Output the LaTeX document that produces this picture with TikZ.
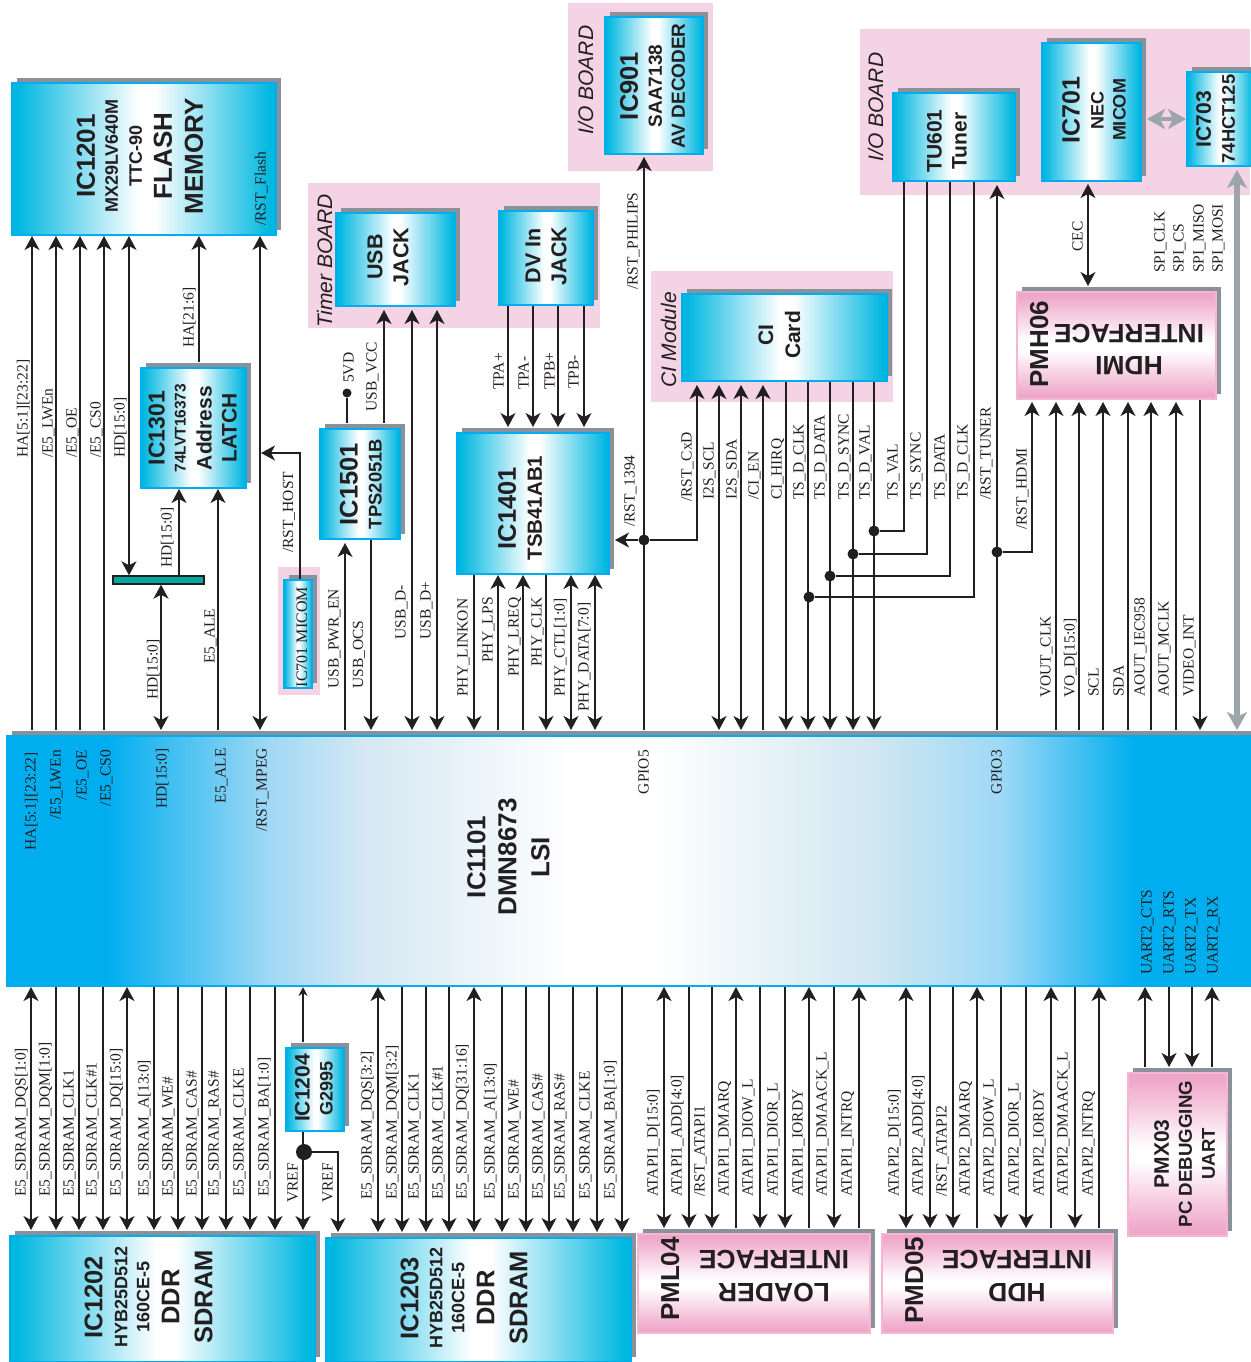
\documentclass[tikz,border=0pt]{standalone}
\usepackage{fontspec}
\setmainfont{Liberation Serif}
\setsansfont{Liberation Sans}
\usetikzlibrary{arrows.meta,fit,shadows}

\definecolor{ink}{HTML}{231F20}
\definecolor{icblue}{HTML}{00AEEF}
\definecolor{chipcyan}{HTML}{00B7E0}
\definecolor{pinkedge}{HTML}{F4B6D2}
\definecolor{pinkfill}{HTML}{EFA7C9}
\definecolor{boardpink}{HTML}{F3D3E4}
\definecolor{shadegray}{HTML}{8A9199}
\definecolor{busgray}{HTML}{9BA5AB}
\definecolor{barteal}{HTML}{00A99D}
\definecolor{lsisky}{HTML}{A0D8F5}
\definecolor{lsipale}{HTML}{D4E8F3}
\definecolor{lsimist}{HTML}{D0E6F0}
\definecolor{lsilight}{HTML}{9CD8F6}

\pgfdeclarehorizontalshading{lsishade}{100bp}{
  color(0bp)=(icblue); color(29bp)=(icblue); color(35.5bp)=(lsisky);
  color(39.3bp)=(lsipale); color(47.8bp)=(white); color(51bp)=(white);
  color(60bp)=(lsimist); color(65bp)=(lsilight);
  color(70.3bp)=(icblue); color(100bp)=(icblue)}
\pgfdeclarehorizontalshading{chipshade}{100bp}{
  color(0bp)=(chipcyan); color(26bp)=(chipcyan); color(49bp)=(white); color(52bp)=(white);
  color(74bp)=(chipcyan); color(100bp)=(chipcyan)}
\pgfdeclareverticalshading{pinkshade}{100bp}{
  color(0bp)=(pinkfill); color(27bp)=(pinkfill); color(48bp)=(white); color(52bp)=(white);
  color(73bp)=(pinkfill); color(100bp)=(pinkfill)}

\newcommand{\sz}[1]{\fontsize{#1}{#1}\selectfont}

\tikzset{
  chipbase/.style={line width=2pt, inner sep=0pt, drop shadow={shadow xshift=5pt, shadow yshift=5pt, opacity=1, fill=shadegray}},
  chip/.style={chipbase, draw=icblue, shading=chipshade},
  lsichip/.style={chipbase, draw=icblue, shading=lsishade},
  pinkchip/.style={chipbase, draw=pinkedge, shading=pinkshade},
  captext/.style={rotate=90, align=center, inner sep=0pt, text=ink, font=\sffamily\bfseries\fontsize{20}{#1}\selectfont},
  backtext/.style={rotate=180, align=center, inner sep=0pt, text=ink, font=\sffamily\bfseries\fontsize{26.5}{#1}\selectfont},
  pintext/.style={rotate=90, anchor=base, inner sep=0pt, text=ink, font=\sffamily\bfseries\fontsize{26}{28}\selectfont},
  boardtext/.style={rotate=90, anchor=base, inner sep=0pt, text=ink, font=\sffamily\itshape\fontsize{21}{23}\selectfont},
  tag/.style={xshift=5.5pt, rotate=90, anchor=base west, inner sep=0pt, text=ink, font=\fontsize{15.5}{17}\selectfont},
  intag/.style={tag, anchor=base east},
  wire/.style={draw=ink, line width=1.4pt},
  gap/.style={shorten >=5pt},
  bus/.style={draw=busgray, line width=6pt, {Stealth[length=18pt,width=20pt,inset=5pt]}-{Stealth[length=18pt,width=20pt,inset=5pt]}},
  dot/.style={circle, fill=ink, inner sep=0pt, minimum size=#1}
}

\begin{document}
\begin{tikzpicture}[x=1pt, y=-1pt, >={Stealth[length=14pt,width=15pt,inset=4pt]}]
    \useasboundingbox (0,0) rectangle (1250,1362);

    % --- Board backgrounds ---
    \fill[boardpink] (568,3) rectangle (713,171);
    \fill[boardpink] (860,29) rectangle (1250,195);
    \fill[boardpink] (308,183) rectangle (600,328);
    \fill[boardpink] (651,271) rectangle (893,402);
    \fill[boardpink] (278,567) rectangle (320,695);
    \node[boardtext] (ioleft) at (593,80) {I/O BOARD};
    \node[boardtext] (ioright) at (883,107) {I/O BOARD};
    \node[boardtext] (timerb) at (332,261) {Timer BOARD};
    \node[boardtext] (cimod) at (676,340) {CI Module};

    % --- Chips ---
    \node[lsichip, fit={(7,736) (1252,986)}] (lsi) {};
    \node[chip, fit={(12,83) (276,235)}] (flash) {};
    \node[chip, fit={(141,368) (246,488)}] (latch) {};
    \node[chip, fit={(320,429) (400,539)}] (ic1501) {};
    \node[chip, fit={(336,213) (455,306)}] (usbjack) {};
    \node[chip, fit={(499,211) (593,305)}] (dvjack) {};
    \node[chip, fit={(457,433) (609,574)}] (ic1401) {};
    \node[chip, fit={(605,17) (703,154)}] (ic901) {};
    \node[chip, fit={(893,93) (1015,181)}] (tuner) {};
    \node[chip, fit={(1042,43) (1141,181)}] (ic701) {};
    \node[chip, fit={(1187,72) (1254,166)}] (ic703) {};
    \node[chip, fit={(682,294) (887,381)}] (cicard) {};
    \node[chip, fit={(284,580) (312,688)}] (micom) {};
    \node[chip, fit={(10,1236) (315,1362)}] (ic1202) {};
    \node[chip, fit={(326,1238) (631,1362)}] (ic1203) {};
    \node[chip, fit={(286,1048) (344,1131)}] (ic1204) {};
    \node[pinkchip, fit={(1017,292) (1216,399)}] (hdmi) {};
    \node[pinkchip, fit={(638,1234) (870,1333)}] (loader) {};
    \node[pinkchip, fit={(882,1234) (1113,1333)}] (hdd) {};
    \node[pinkchip, fit={(1128,1073) (1227,1236)}] (uart) {};
    \node[draw=ink, line width=1.4pt, fill=barteal, inner sep=0pt, fit={(113,576) (204,584)}] (hdbar) {};

    % --- Chip captions ---
    \node[captext=23] (tflash) at (140,156) {{\sz{26}IC1201}\\{\sz{18}MX29LV640M}\\[1pt]{\sz{18}TTC-90}\\[7pt]{\sz{26}FLASH}\\[8pt]{\sz{26}MEMORY}};
    \node[captext=21] (tlatch) at (192.7,428) {{\sz{23}IC1301}\\{\sz{15.5}74LVT16373}\\[5pt]{\sz{21}Address}\\[4pt]{\sz{21}LATCH}};
    \node[captext=24] (t1501) at (360.8,484) {{\sz{25.5}IC1501}\\{\sz{18.4}TPS2051B}};
    \node[captext=26] (tusb) at (388,257) {{\sz{21.5}USB}\\{\sz{21.5}JACK}};
    \node[captext=26] (tdv) at (546.2,256) {{\sz{21.5}DV In}\\{\sz{21.5}JACK}};
    \node[captext=26] (t1401) at (520,508) {{\sz{25.5}IC1401}\\{\sz{20.5}TSB41AB1}};
    \node[captext=23] (t901) at (652.5,86) {{\sz{25.5}IC901}\\[1pt]{\sz{19}SAA7138}\\{\sz{19}AV DECODER}};
    \node[captext=25] (ttuner) at (947,141) {{\sz{21}TU601}\\{\sz{21}Tuner}};
    \node[captext=22] (t701) at (1094,110) {{\sz{25}IC701}\\[2pt]{\sz{18}NEC}\\{\sz{18}MICOM}};
    \node[captext=24] (t703) at (1215.5,119) {{\sz{21}IC703}\\{\sz{18.3}74HCT125}};
    \node[captext=27] (tci) at (779.5,335) {{\sz{21}CI}\\{\sz{21}Card}};
    \node[captext=31] (tlsi) at (508.5,857) {{\sz{26}IC1101}\\{\sz{26}DMN8673}\\[2pt]{\sz{26}LSI}};
    \node[captext=22] (t1202) at (148.7,1297) {{\sz{25.5}IC1202}\\[3pt]{\sz{18}HYB25D512}\\{\sz{18}160CE-5}\\[8pt]{\sz{25.5}DDR}\\[11pt]{\sz{25.5}SDRAM}};
    \node[captext=22] (t1203) at (464,1298) {{\sz{25.5}IC1203}\\[2pt]{\sz{18}HYB25D512}\\{\sz{18}160CE-5}\\[8pt]{\sz{25.5}DDR}\\[11pt]{\sz{25.5}SDRAM}};
    \node[captext=23] (t1204) at (314,1088) {{\sz{21}IC1204}\\{\sz{18}G2995}};
    \node[captext=23] (tuart) at (1184.5,1154) {{\sz{21}PMX03}\\{\sz{18.7}PC DEBUGGING}\\{\sz{18.5}UART}};
    \node[intag, anchor=base, font=\fontsize{16}{18}\selectfont] (tmicom) at (301.5,637) {IC701 MICOM};
    \node[pintext] (thdmipin) at (1048,344) {PMH06};
    \node[backtext=32] (thdmi) at (1129,349) {HDMI\\INTERFACE};
    \node[pintext] (tloaderpin) at (679,1279) {PML04};
    \node[backtext=33] (tloader) at (774,1276) {LOADER\\INTERFACE};
    \node[pintext] (thddpin) at (923,1280) {PMD05};
    \node[backtext=33] (thdd) at (1017,1276) {HDD\\INTERFACE};

    % --- Junctions ---
    \node[dot=11pt] (jrst) at (644,540) {};
    \node[dot=11pt] (jval) at (874,531) {};
    \node[dot=11pt] (jsync) at (853,554) {};
    \node[dot=11pt] (jdata) at (830,576) {};
    \node[dot=11pt] (jclk) at (809,597) {};
    \node[dot=11pt] (jtuner) at (997,552) {};
    \node[dot=9pt] (jfive) at (347,393) {};
    \node[dot=16pt] (jvref) at (304,1152) {};
    \coordinate (hostend) at (261,453);

    % --- Flash and latch ---
    \draw[wire,<-,gap] (32,0 |- flash.south) -- (32,0 |- lsi.north);
    \draw[wire,<-,gap] (56,0 |- flash.south) -- (56,0 |- lsi.north);
    \draw[wire,<-,gap] (80,0 |- flash.south) -- (80,0 |- lsi.north);
    \draw[wire,<-,gap] (104,0 |- flash.south) -- (104,0 |- lsi.north);
    \draw[wire,<->] (129,0 |- flash.south) -- (129,0 |- hdbar.north);
    \draw[wire,<-,gap] (199,0 |- flash.south) -- (199,0 |- latch.north);
    \draw[wire,<->,gap] (260,0 |- flash.south) -- (260,0 |- lsi.north);
    \draw[wire,<-] (179,0 |- latch.south) -- (179,0 |- hdbar.north);
    \draw[wire,<->,gap] (161,0 |- hdbar.south) -- (161,0 |- lsi.north);
    \draw[wire,<-,gap] (218,0 |- latch.south) -- (218,0 |- lsi.north);
    \draw[wire,->] (300,0 |- micom.north) |- (hostend);
    \node[tag] (lha) at (22,458) {HA[5:1][23:22]};
    \node[tag] (llwen) at (47,458) {/E5\_LWEn};
    \node[tag] (loe) at (71,458) {/E5\_OE};
    \node[tag] (lcs) at (95,458) {/E5\_CS0};
    \node[tag] (lhdtop) at (119,458) {HD[15:0]};
    \node[tag] (lhahi) at (188,348) {HA[21:6]};
    \node[tag] (lrstflash) at (260,226) {/RST\_Flash};
    \node[tag] (lhdmid) at (166,568) {HD[15:0]};
    \node[tag] (lhdlow) at (152,700) {HD[15:0]};
    \node[tag] (lale) at (209,664) {E5\_ALE};
    \node[tag] (lhost) at (287.5,553) {/RST\_HOST};

    % --- USB ---
    \draw[wire,<-,gap,shorten <=3pt] (384,0 |- usbjack.south) -- (384,0 |- ic1501.north);
    \draw[wire,gap] (jfive) -- (347,0 |- ic1501.north);
    \draw[wire,<-,gap,shorten <=3pt] (345,0 |- ic1501.south) -- (345,0 |- lsi.north);
    \draw[wire,->,gap] (371,0 |- ic1501.south) -- (371,0 |- lsi.north);
    \draw[wire,<->,gap,shorten <=3pt] (412,0 |- usbjack.south) -- (412,0 |- lsi.north);
    \draw[wire,<->,gap,shorten <=3pt] (437,0 |- usbjack.south) -- (437,0 |- lsi.north);
    \node[tag] (lfive) at (348,383) {5VD};
    \node[tag] (lvcc) at (371,412) {USB\_VCC};
    \node[tag] (lpwr) at (333,689) {USB\_PWR\_EN};
    \node[tag] (locs) at (357.5,689) {USB\_OCS};
    \node[tag] (lusbm) at (400,640) {USB\_D-};
    \node[tag] (lusbp) at (425,640) {USB\_D+};

    % --- 1394 PHY ---
    \draw[wire,->,gap] (508,0 |- dvjack.south) -- (508,0 |- ic1401.north);
    \draw[wire,->,gap] (533,0 |- dvjack.south) -- (533,0 |- ic1401.north);
    \draw[wire,->,gap] (558,0 |- dvjack.south) -- (558,0 |- ic1401.north);
    \draw[wire,->,gap] (584,0 |- dvjack.south) -- (584,0 |- ic1401.north);
    \draw[wire,->,gap] (474,0 |- ic1401.south) -- (474,0 |- lsi.north);
    \draw[wire,<-,gap] (498,0 |- ic1401.south) -- (498,0 |- lsi.north);
    \draw[wire,<-,gap] (523,0 |- ic1401.south) -- (523,0 |- lsi.north);
    \draw[wire,->,gap] (546,0 |- ic1401.south) -- (546,0 |- lsi.north);
    \draw[wire,<->,gap] (571,0 |- ic1401.south) -- (571,0 |- lsi.north);
    \draw[wire,<->,gap] (595,0 |- ic1401.south) -- (595,0 |- lsi.north);
    \node[tag] (ltpap) at (498,390) {TPA+};
    \node[tag] (ltpam) at (523,390) {TPA-};
    \node[tag] (ltpbp) at (549,390) {TPB+};
    \node[tag] (ltpbm) at (573,389) {TPB-};
    \node[tag] (llinkon) at (462,697) {PHY\_LINKON};
    \node[tag] (llps) at (487,663) {PHY\_LPS};
    \node[tag] (llreq) at (513,677) {PHY\_LREQ};
    \node[tag] (lphyclk) at (536,667) {PHY\_CLK};
    \node[tag] (lctl) at (559,697) {PHY\_CTL[1:0]};
    \node[tag] (lphydata) at (583,712) {PHY\_DATA[7:0]};

    % --- Reset line and CI card ---
    \draw[wire,<-,shorten <=2pt,gap] (644,0 |- ic901.south) -- (644,0 |- lsi.north);
    \draw[wire,->,gap] (jrst) -- (jrst -| ic1401.east);
    \draw[wire,<-,shorten <=3pt] (697,0 |- cicard.south) |- (jrst);
    \draw[wire,<->,gap,shorten <=3pt] (719,0 |- cicard.south) -- (719,0 |- lsi.north);
    \draw[wire,<->,gap,shorten <=3pt] (741,0 |- cicard.south) -- (741,0 |- lsi.north);
    \draw[wire,<-,gap,shorten <=3pt] (763,0 |- cicard.south) -- (763,0 |- lsi.north);
    \draw[wire,->,gap] (786,0 |- cicard.south) -- (786,0 |- lsi.north);
    \draw[wire,->,gap] (808,0 |- cicard.south) -- (808,0 |- lsi.north);
    \draw[wire,->,gap] (830,0 |- cicard.south) -- (830,0 |- lsi.north);
    \draw[wire,->,gap] (853,0 |- cicard.south) -- (853,0 |- lsi.north);
    \draw[wire,->,gap] (874,0 |- cicard.south) -- (874,0 |- lsi.north);
    \node[tag] (lphilips) at (632,290) {/RST\_PHILIPS};
    \node[tag] (l1394) at (629,527) {/RST\_1394};
    \node[tag] (lcxd) at (686,502) {/RST\_CxD};
    \node[tag] (lscl) at (708,500) {I2S\_SCL};
    \node[tag] (lsda) at (731,500) {I2S\_SDA};
    \node[tag] (lcien) at (753,500) {/CI\_EN};
    \node[tag] (lhirq) at (776,500) {CI\_HIRQ};
    \node[tag] (ldclk) at (798,500) {TS\_D\_CLK};
    \node[tag] (lddata) at (819,500) {TS\_D\_DATA};
    \node[tag] (ldsync) at (843,500) {TS\_D\_SYNC};
    \node[tag] (ldval) at (864,500) {TS\_D\_VAL};

    % --- Tuner ---
    \draw[wire] (904,0 |- tuner.south) |- (jval);
    \draw[wire] (927,0 |- tuner.south) |- (jsync);
    \draw[wire] (950,0 |- tuner.south) |- (jdata);
    \draw[wire] (974,0 |- tuner.south) |- (jclk);
    \draw[wire,<-,gap,shorten <=3pt] (997,0 |- tuner.south) -- (997,0 |- lsi.north);
    \node[tag] (ltsval) at (892,500) {TS\_VAL};
    \node[tag] (ltssync) at (915,500) {TS\_SYNC};
    \node[tag] (ltsdata) at (939,500) {TS\_DATA};
    \node[tag] (ltsclk) at (962,500) {TS\_D\_CLK};
    \node[tag] (ltuner) at (985,500) {/RST\_TUNER};

    % --- HDMI ---
    \draw[wire,<-,shorten <=2pt] (1032,0 |- hdmi.south) |- (jtuner);
    \draw[wire,<-,shorten <=2pt,gap] (1056,0 |- hdmi.south) -- (1056,0 |- lsi.north);
    \draw[wire,<-,shorten <=2pt,gap] (1079,0 |- hdmi.south) -- (1079,0 |- lsi.north);
    \draw[wire,<-,shorten <=2pt,gap] (1103,0 |- hdmi.south) -- (1103,0 |- lsi.north);
    \draw[wire,<-,shorten <=2pt,gap] (1128,0 |- hdmi.south) -- (1128,0 |- lsi.north);
    \draw[wire,<-,shorten <=2pt,gap] (1151,0 |- hdmi.south) -- (1151,0 |- lsi.north);
    \draw[wire,<-,shorten <=2pt,gap] (1176,0 |- hdmi.south) -- (1176,0 |- lsi.north);
    \draw[wire,->,gap] (1200,0 |- hdmi.south) -- (1200,0 |- lsi.north);
    \draw[wire,<->,gap,shorten <=2pt] (1088,0 |- ic701.south) -- (1088,0 |- hdmi.north);
    \node[tag] (lhdmirst) at (1021,530) {/RST\_HDMI};
    \node[tag] (lvout) at (1045,698) {VOUT\_CLK};
    \node[tag] (lvod) at (1069,698) {VO\_D[15:0]};
    \node[tag] (lhscl) at (1093,697) {SCL};
    \node[tag] (lhsda) at (1118,697) {SDA};
    \node[tag] (liec) at (1139,697) {AOUT\_IEC958};
    \node[tag] (lmclk) at (1163,697) {AOUT\_MCLK};
    \node[tag] (lvint) at (1188,697) {VIDEO\_INT};
    \node[tag] (lcec) at (1077,252) {CEC};

    % --- SPI bus ---
    \draw[bus,shorten <=3pt,gap] (1237,0 |- ic703.south) -- (1237,0 |- lsi.north);
    \draw[bus,line width=4pt,shorten <=5pt] (ic701.east |- ic703.west) -- (ic703.west);
    \node[tag] (lspiclk) at (1159,273) {SPI\_CLK};
    \node[tag] (lspics) at (1178,273) {SPI\_CS};
    \node[tag] (lspimiso) at (1198,273) {SPI\_MISO};
    \node[tag] (lspimosi) at (1217,273) {SPI\_MOSI};

    % --- Labels inside the LSI ---
    \node[intag] (iha) at (30,752) {HA[5:1][23:22]};
    \node[intag] (ilwen) at (55,750) {/E5\_LWEn};
    \node[intag] (ioe) at (81,750) {/E5\_OE};
    \node[intag] (ics) at (105,750) {/E5\_CS0};
    \node[intag] (ihd) at (161,748) {HD[15:0]};
    \node[intag] (iale) at (220,748) {E5\_ALE};
    \node[intag] (impeg) at (261,748) {/RST\_MPEG};
    \node[intag] (igpfive) at (643,750) {GPIO5};
    \node[intag] (igpthree) at (996,750) {GPIO3};
    \node[tag] (icts) at (1146,975) {UART2\_CTS};
    \node[tag] (irts) at (1168,975) {UART2\_RTS};
    \node[tag] (itx) at (1190,975) {UART2\_TX};
    \node[tag] (irx) at (1212,975) {UART2\_RX};

    % --- SDRAM one ---
    \draw[wire,<->,gap] (31,0 |- lsi.south) -- (31,0 |- ic1202.north);
    \draw[wire,->,gap] (56,0 |- lsi.south) -- (56,0 |- ic1202.north);
    \draw[wire,->,gap] (79,0 |- lsi.south) -- (79,0 |- ic1202.north);
    \draw[wire,->,gap] (103,0 |- lsi.south) -- (103,0 |- ic1202.north);
    \draw[wire,<->,gap] (127,0 |- lsi.south) -- (127,0 |- ic1202.north);
    \draw[wire,->,gap] (154,0 |- lsi.south) -- (154,0 |- ic1202.north);
    \draw[wire,->,gap] (178,0 |- lsi.south) -- (178,0 |- ic1202.north);
    \draw[wire,->,gap] (202,0 |- lsi.south) -- (202,0 |- ic1202.north);
    \draw[wire,->,gap] (226,0 |- lsi.south) -- (226,0 |- ic1202.north);
    \draw[wire,->,gap] (250,0 |- lsi.south) -- (250,0 |- ic1202.north);
    \draw[wire,->,gap] (275,0 |- lsi.south) -- (275,0 |- ic1202.north);
    \node[tag] (adqs) at (20,1197) {E5\_SDRAM\_DQS[1:0]};
    \node[tag] (adqm) at (44,1197) {E5\_SDRAM\_DQM[1:0]};
    \node[tag] (aclk) at (68,1197) {E5\_SDRAM\_CLK1};
    \node[tag] (aclkn) at (91,1197) {E5\_SDRAM\_CLK\#1};
    \node[tag] (adq) at (115,1197) {E5\_SDRAM\_DQ[15:0]};
    \node[tag] (aadr) at (143,1197) {E5\_SDRAM\_A[13:0]};
    \node[tag] (awe) at (167,1197) {E5\_SDRAM\_WE\#};
    \node[tag] (acas) at (191,1197) {E5\_SDRAM\_CAS\#};
    \node[tag] (aras) at (213,1197) {E5\_SDRAM\_RAS\#};
    \node[tag] (acke) at (238,1197) {E5\_SDRAM\_CLKE};
    \node[tag] (aba) at (263,1197) {E5\_SDRAM\_BA[1:0]};

    % --- VREF ---
    \draw[wire,line width=1.2pt,{Stealth[length=9pt,width=9pt,inset=3pt]}-,gap] (303,0 |- lsi.south) -- (303,0 |- ic1204.north);
    \draw[wire] (303,0 |- ic1204.south) -- (303,0 |- jvref);
    \draw[wire,->,gap] (303,0 |- jvref) -- (303,0 |- ic1202.north);
    \draw[wire,->,gap] (jvref) -| (338,0 |- ic1203.north);
    \node[tag] (avref) at (292,1203) {VREF};
    \node[tag] (bvref) at (327,1203) {VREF};

    % --- SDRAM two ---
    \draw[wire,<->,gap] (378,0 |- lsi.south) -- (378,0 |- ic1203.north);
    \draw[wire,->,gap] (402,0 |- lsi.south) -- (402,0 |- ic1203.north);
    \draw[wire,->,gap] (426,0 |- lsi.south) -- (426,0 |- ic1203.north);
    \draw[wire,->,gap] (449,0 |- lsi.south) -- (449,0 |- ic1203.north);
    \draw[wire,<->,gap] (474,0 |- lsi.south) -- (474,0 |- ic1203.north);
    \draw[wire,->,gap] (502,0 |- lsi.south) -- (502,0 |- ic1203.north);
    \draw[wire,->,gap] (526,0 |- lsi.south) -- (526,0 |- ic1203.north);
    \draw[wire,->,gap] (549,0 |- lsi.south) -- (549,0 |- ic1203.north);
    \draw[wire,->,gap] (573,0 |- lsi.south) -- (573,0 |- ic1203.north);
    \draw[wire,->,gap] (597,0 |- lsi.south) -- (597,0 |- ic1203.north);
    \draw[wire,->,gap] (622,0 |- lsi.south) -- (622,0 |- ic1203.north);
    \node[tag] (bdqs) at (366,1200) {E5\_SDRAM\_DQS[3:2]};
    \node[tag] (bdqm) at (391,1200) {E5\_SDRAM\_DQM[3:2]};
    \node[tag] (bclk) at (413,1200) {E5\_SDRAM\_CLK1};
    \node[tag] (bclkn) at (437,1200) {E5\_SDRAM\_CLK\#1};
    \node[tag] (bdq) at (461,1200) {E5\_SDRAM\_DQ[31:16]};
    \node[tag] (badr) at (489,1200) {E5\_SDRAM\_A[13:0]};
    \node[tag] (bwe) at (513,1200) {E5\_SDRAM\_WE\#};
    \node[tag] (bcas) at (537,1200) {E5\_SDRAM\_CAS\#};
    \node[tag] (bras) at (559,1200) {E5\_SDRAM\_RAS\#};
    \node[tag] (bcke) at (584,1200) {E5\_SDRAM\_CLKE};
    \node[tag] (bba) at (609,1200) {E5\_SDRAM\_BA[1:0]};

    % --- Loader interface ---
    \draw[wire,<->,gap] (664,0 |- lsi.south) -- (664,0 |- loader.north);
    \draw[wire,->,gap] (689,0 |- lsi.south) -- (689,0 |- loader.north);
    \draw[wire,->,gap] (712,0 |- lsi.south) -- (712,0 |- loader.north);
    \draw[wire,<-,gap] (736,0 |- lsi.south) -- (736,0 |- loader.north);
    \draw[wire,->,gap] (760,0 |- lsi.south) -- (760,0 |- loader.north);
    \draw[wire,->,gap] (785,0 |- lsi.south) -- (785,0 |- loader.north);
    \draw[wire,<-,gap] (809,0 |- lsi.south) -- (809,0 |- loader.north);
    \draw[wire,->,gap] (834,0 |- lsi.south) -- (834,0 |- loader.north);
    \draw[wire,<-,gap] (859,0 |- lsi.south) -- (859,0 |- loader.north);
    \node[tag] (cd) at (652,1197) {ATAPI1\_D[15:0]};
    \node[tag] (cadd) at (676,1197) {ATAPI1\_ADD[4:0]};
    \node[tag] (crst) at (699,1197) {/RST\_ATAPI1};
    \node[tag] (cdmarq) at (723,1197) {ATAPI1\_DMARQ};
    \node[tag] (cdiow) at (747,1197) {ATAPI1\_DIOW\_L};
    \node[tag] (cdior) at (772,1197) {ATAPI1\_DIOR\_L};
    \node[tag] (ciordy) at (797,1197) {ATAPI1\_IORDY};
    \node[tag] (cdmaack) at (821,1197) {ATAPI1\_DMAACK\_L};
    \node[tag] (cintrq) at (846,1197) {ATAPI1\_INTRQ};

    % --- HDD interface ---
    \draw[wire,<->,gap] (906,0 |- lsi.south) -- (906,0 |- hdd.north);
    \draw[wire,->,gap] (930,0 |- lsi.south) -- (930,0 |- hdd.north);
    \draw[wire,->,gap] (953,0 |- lsi.south) -- (953,0 |- hdd.north);
    \draw[wire,<-,gap] (977,0 |- lsi.south) -- (977,0 |- hdd.north);
    \draw[wire,->,gap] (1001,0 |- lsi.south) -- (1001,0 |- hdd.north);
    \draw[wire,->,gap] (1026,0 |- lsi.south) -- (1026,0 |- hdd.north);
    \draw[wire,<-,gap] (1051,0 |- lsi.south) -- (1051,0 |- hdd.north);
    \draw[wire,->,gap] (1075,0 |- lsi.south) -- (1075,0 |- hdd.north);
    \draw[wire,<-,gap] (1099,0 |- lsi.south) -- (1099,0 |- hdd.north);
    \node[tag] (dd) at (893,1197) {ATAPI2\_D[15:0]};
    \node[tag] (dadd) at (917,1197) {ATAPI2\_ADD[4:0]};
    \node[tag] (drst) at (941,1197) {/RST\_ATAPI2};
    \node[tag] (ddmarq) at (964,1197) {ATAPI2\_DMARQ};
    \node[tag] (ddiow) at (988,1197) {ATAPI2\_DIOW\_L};
    \node[tag] (ddior) at (1013,1197) {ATAPI2\_DIOR\_L};
    \node[tag] (diordy) at (1038,1197) {ATAPI2\_IORDY};
    \node[tag] (ddmaack) at (1062,1197) {ATAPI2\_DMAACK\_L};
    \node[tag] (dintrq) at (1087,1197) {ATAPI2\_INTRQ};

    % --- Debug UART ---
    \draw[wire,<-,gap] (1145,0 |- lsi.south) -- (1145,0 |- uart.north);
    \draw[wire,->,gap] (1169,0 |- lsi.south) -- (1169,0 |- uart.north);
    \draw[wire,->,gap] (1192,0 |- lsi.south) -- (1192,0 |- uart.north);
    \draw[wire,<-,gap] (1212,0 |- lsi.south) -- (1212,0 |- uart.north);

\end{tikzpicture}
\end{document}
